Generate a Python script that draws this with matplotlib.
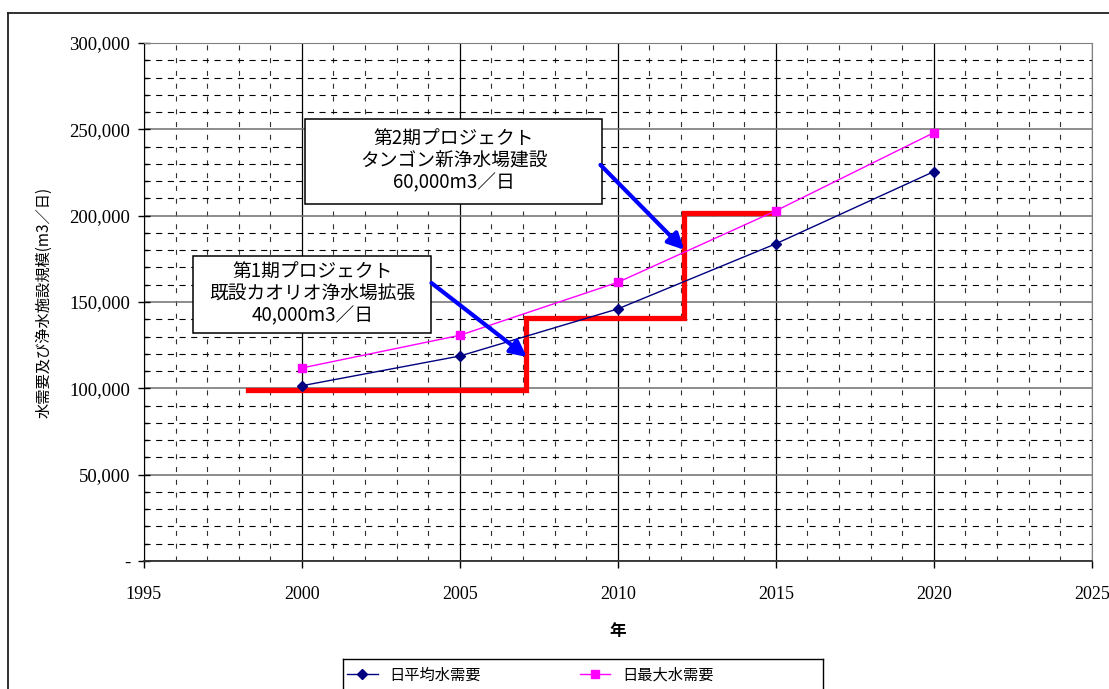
import matplotlib
matplotlib.use("Agg")
from matplotlib import pyplot as plt
from matplotlib.ticker import MultipleLocator, FuncFormatter
from matplotlib.patches import FancyArrowPatch, Rectangle
from matplotlib.lines import Line2D

jp = ["Noto Sans CJK JP", "DejaVu Sans"]
serif = "Liberation Serif"

# 需要予測
years = [2000, 2005, 2010, 2015, 2020]
avg_demand = [101500, 118700, 146000, 183700, 225500]
max_demand = [111800, 130700, 161400, 202800, 248000]

# 施設規模 (段階整備)
cap_years = [1998.3, 2007.1, 2012.1, 2015.05]
capacity = [99000, 141000, 201500, 201500]

box1_text = "第1期プロジェクト\n既設カオリオ浄水場拡張\n40,000m3／日"
box2_text = "第2期プロジェクト\nタンゴン新浄水場建設\n60,000m3／日"

fig = plt.figure(figsize=(11.09, 6.89), dpi=100)
ax = fig.add_axes([0.1298, 0.1858, 0.8546, 0.7518])

ax.set_xlim(1995, 2025)
ax.set_ylim(0, 300000)
ax.xaxis.set_major_locator(MultipleLocator(5))
ax.xaxis.set_minor_locator(MultipleLocator(1))
ax.yaxis.set_major_locator(MultipleLocator(50000))
ax.yaxis.set_minor_locator(MultipleLocator(10000))
ax.yaxis.set_major_formatter(FuncFormatter(lambda v, p: "-" if v == 0 else f"{int(v):,}"))

ax.grid(which="major", axis="x", color="black", lw=0.9)
ax.grid(which="major", axis="y", color="#6e6e6e", lw=1.1)
ax.grid(which="minor", axis="y", color="black", lw=0.8, linestyle=(0, (5.5, 5.0)))
ax.grid(which="minor", axis="x", color="#303030", lw=0.8, linestyle=(0, (4.5, 7.0)))
ax.set_axisbelow(True)

ax.tick_params(axis="x", which="major", direction="out", length=5, width=1, pad=13, labelsize=13)
ax.tick_params(axis="x", which="minor", length=0)
ax.tick_params(axis="y", which="major", direction="inout", length=8, width=1, pad=6, labelsize=13.5)
ax.tick_params(axis="y", which="minor", direction="in", length=3, width=1)
for lab in ax.get_xticklabels() + ax.get_yticklabels():
    lab.set_fontfamily(serif)

ax.spines["left"].set_color("black")
ax.spines["bottom"].set_color("#303030")
ax.spines["bottom"].set_linewidth(1.3)
ax.spines["top"].set_color("#808080")
ax.spines["right"].set_color("#808080")

ax.plot(years, avg_demand, color="#000080", lw=1, marker="D", markersize=5.5,
        label="日平均水需要", zorder=4)
ax.plot(years, max_demand, color="#ff00ff", lw=1, marker="s", markersize=5.5,
        label="日最大水需要", zorder=4)
ax.step(cap_years, capacity, where="post", color="#ff0000", lw=3.8,
        solid_joinstyle="miter", zorder=3)

ax.set_xlabel("年", family=jp, fontsize=12, fontweight="bold", labelpad=14)
ax.set_ylabel("水需要及び浄水施設規模(m3／日)", family=jp, fontsize=11, labelpad=12)

# プロジェクト説明ボックス
for (x0, x1, y0, y1), txt in [((1996.55, 2004.1, 132300, 176700), box1_text),
                              ((2000.1, 2009.5, 206600, 256200), box2_text)]:
    ax.add_patch(Rectangle((x0, y0), x1 - x0, y1 - y0, facecolor="white",
                           edgecolor="black", lw=1.1, zorder=5))
    ax.text((x0 + x1) / 2, (y0 + y1) / 2, txt, ha="center", va="center",
            family=jp, fontsize=13.5, linespacing=1.05, zorder=6)

for tail, tip in [((2004.1, 161000), (2007.12, 118200)),
                  ((2009.45, 229400), (2012.1, 180200))]:
    ax.add_patch(FancyArrowPatch(tail, tip, arrowstyle="-|>", mutation_scale=24,
                                 color="#0000ff", lw=3, shrinkA=0, shrinkB=0, zorder=6))

# 凡例
fig.legend(loc="center left", bbox_to_anchor=(347 / 1109, 1 - 675 / 689), ncol=2,
           frameon=False, prop={"family": jp, "size": 11}, borderpad=0, borderaxespad=0,
           handlelength=2.0, handletextpad=0.75, columnspacing=6.5)
lx0, lx1, ly = 343 / 1109, 823 / 1109, 1 - 659 / 689
for xs, ys in [([lx0, lx1], [ly, ly]), ([lx0, lx0], [ly, -0.1]), ([lx1, lx1], [ly, -0.1])]:
    fig.add_artist(Line2D(xs, ys, color="black", lw=1, transform=fig.transFigure))

# グラフ外枠
bx, by = 8 / 1109, 1 - 13 / 689
fig.add_artist(Line2D([bx, 1.1], [by, by], color="#202020", lw=1.3, transform=fig.transFigure))
fig.add_artist(Line2D([bx, bx], [by, -0.1], color="#202020", lw=1.3, transform=fig.transFigure))

fig.savefig("out.png", dpi=100)
